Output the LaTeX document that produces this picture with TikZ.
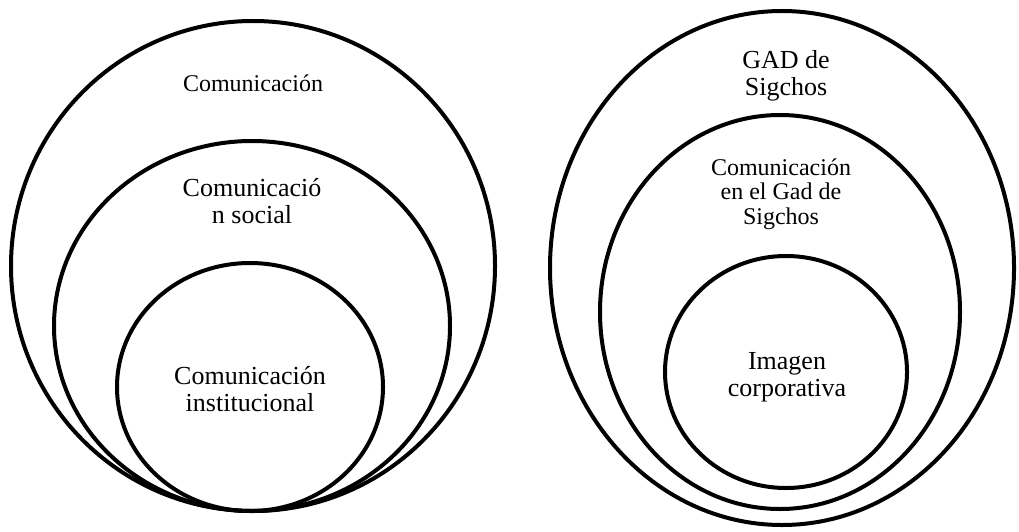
\documentclass[tikz,border=0pt]{standalone}
\usepackage{fontspec}
\setmainfont{Liberation Serif}
\usepackage{tikz}
\usetikzlibrary{calc}

\tikzset{
  ring/.style={line width=3pt},
  biglabel/.style={inner sep=0.75pt, align=center, font=\fontsize{19.5}{20.5}\selectfont},
  smalllabel/.style={inner sep=0.75pt, align=center, font=\fontsize{18}{18.5}\selectfont}
}

\begin{document}
\begin{tikzpicture}[x=0.75pt,y=0.75pt,yscale=-1,xscale=1]
        \useasboundingbox (0,0) rectangle (1019,531);
        %Shape: Ellipse [left, outer]
        \draw [ring] (253,266) ellipse (242 and 245);
        %Shape: Ellipse [left, middle]
        \draw [ring] (252,326) ellipse (198 and 185);
        %Shape: Ellipse [left, inner]
        \draw [ring] (250,387) ellipse (133 and 124);
        %Shape: Ellipse [right, outer]
        \draw [ring] (782,268) ellipse (232 and 257);
        %Shape: Ellipse [right, middle]
        \draw [ring] (780,312) ellipse (180 and 197);
        %Shape: Ellipse [right, inner]
        \draw [ring] (786,372) ellipse (121 and 116);
        % Text Node
        \node [smalllabel] (lblcom) at (253,83) {Comunicación};
        % Text Node
        \node [biglabel] (lblsocial) at (252,201) {Comunicació\\n social};
        % Text Node
        \node [biglabel] (lblinst) at (250,389) {Comunicación\\institucional};
        % Text Node
        \node [biglabel] (lblgad) at (786,76) {GAD de\\Sigchos};
        % Text Node
        \node [smalllabel] (lblcomgad) at (781,194) {Comunicación\\en el Gad de\\Sigchos};
        % Text Node
        \node [biglabel] (lblimagen) at (787,377) {Imagen\\corporativa};
\end{tikzpicture}
\end{document}
